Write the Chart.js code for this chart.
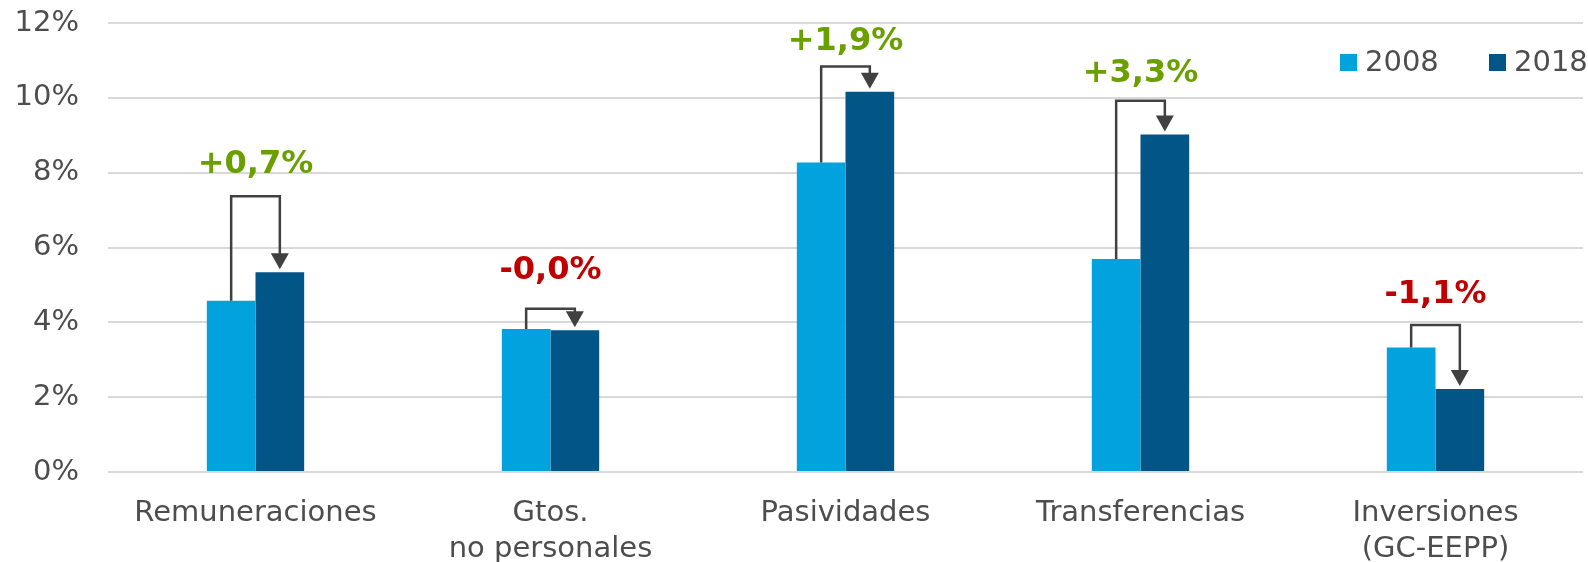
<!DOCTYPE html>
<html>
<head>
<meta charset="utf-8">
<script src="https://cdn.jsdelivr.net/npm/chart.js@4/dist/chart.umd.min.js"></script>
<style>
  html, body { margin: 0; padding: 0; background: #fff; }
  #wrap { width: 1588px; height: 562px; }
</style>
</head>
<body>
<div id="wrap"><canvas id="myChart"></canvas></div>
<script>
const categories = ['Remuneraciones', ['Gtos.', 'no personales'], 'Pasividades', 'Transferencias', ['Inversiones', '(GC-EEPP)']]
const values2008 = [4.58, 3.82, 8.27, 5.69, 3.33]
const values2018 = [5.34, 3.79, 10.16, 9.02, 2.22]
const changeLabels = ['+0,7%', '-0,0%', '+1,9%', '+3,3%', '-1,1%']
const bracketLevels = [7.37, 4.36, 10.84, 9.92, 3.93]
const labelLevels = [8.21, 5.37, 11.49, 10.65, 4.74]
const yTicks = [0, 2, 4, 6, 8, 10, 12]

const font = '"DejaVu Sans", Verdana, sans-serif'
const textGray = '#4d4d4d'
const col2008 = '#02a2df'
const col2018 = '#015587'

// bracket arrows, change labels and legend
const arrowsPlugin = {
    id: 'arrows',
    afterDatasetsDraw(chart) {
        const ctx = chart.ctx
        const y = chart.scales.y
        const m0 = chart.getDatasetMeta(0).data
        const m1 = chart.getDatasetMeta(1).data
        ctx.save()
        for (let i = 0; i < categories.length; i++) {
            const x0 = m0[i].x, y0 = m0[i].y
            const x1 = m1[i].x, y1 = m1[i].y
            const yb = y.getPixelForValue(bracketLevels[i])
            const tip = y1 - 3
            const ah = 16, aw = 9
            ctx.strokeStyle = '#404040'
            ctx.lineWidth = 2.5
            ctx.beginPath()
            ctx.moveTo(x0, y0)
            ctx.lineTo(x0, yb)
            ctx.lineTo(x1, yb)
            ctx.lineTo(x1, tip - ah + 1)
            ctx.stroke()
            ctx.fillStyle = '#404040'
            ctx.beginPath()
            ctx.moveTo(x1 - aw, tip - ah)
            ctx.lineTo(x1 + aw, tip - ah)
            ctx.lineTo(x1, tip)
            ctx.closePath()
            ctx.fill()

            ctx.fillStyle = changeLabels[i].startsWith('-') ? '#c00000' : '#6a9f00'
            ctx.font = 'bold 32px ' + font
            ctx.textAlign = 'center'
            ctx.textBaseline = 'middle'
            ctx.fillText(changeLabels[i], (x0 + x1) / 2, y.getPixelForValue(labelLevels[i]))
        }

        // legend
        const items = [['2008', col2008, 1340], ['2018', col2018, 1489]]
        ctx.font = '29px ' + font
        ctx.textAlign = 'left'
        ctx.textBaseline = 'middle'
        for (const [txt, c, lx] of items) {
            ctx.fillStyle = c
            ctx.fillRect(lx, 54, 17, 17)
            ctx.fillStyle = textGray
            ctx.fillText(txt, lx + 25, 63)
        }
        ctx.restore()
    }
}

const ctx = document.getElementById('myChart')
const myChart = new Chart(ctx, {
    type: 'bar',
    data: {
        labels: categories,
        datasets: [
            { label: '2008', data: values2008, backgroundColor: col2008 },
            { label: '2018', data: values2018, backgroundColor: col2018 }
        ]
    },
    options: {
        responsive: true,
        maintainAspectRatio: false,
        animation: false,
        layout: { padding: { top: 23, left: 14, right: 5, bottom: 0 } },
        datasets: { bar: { barPercentage: 1, categoryPercentage: 0.33 } },
        scales: {
            x: {
                grid: { display: false },
                border: { display: false },
                afterFit(axis) {
                    axis.paddingLeft = 0
                    axis.paddingRight = 0
                    axis.height = 90
                },
                ticks: {
                    color: textGray,
                    font: { family: font, size: 29, lineHeight: 1.22 },
                    padding: 16,
                    maxRotation: 0,
                    autoSkip: false
                }
            },
            y: {
                min: 0,
                max: 12,
                afterBuildTicks(axis) { axis.ticks = yTicks.map(v => ({ value: v })) },
                afterFit(axis) {
                    axis.paddingTop = 0
                    axis.paddingBottom = 0
                    axis.width = 94
                },
                border: { display: false },
                grid: { color: '#d9d9d9', lineWidth: 2, drawTicks: false },
                ticks: {
                    color: textGray,
                    font: { family: font, size: 29 },
                    padding: 29,
                    callback: v => v + '%'
                }
            }
        },
        plugins: {
            legend: { display: false },
            tooltip: { enabled: false }
        }
    },
    plugins: [arrowsPlugin]
});
</script>
</body>
</html>
